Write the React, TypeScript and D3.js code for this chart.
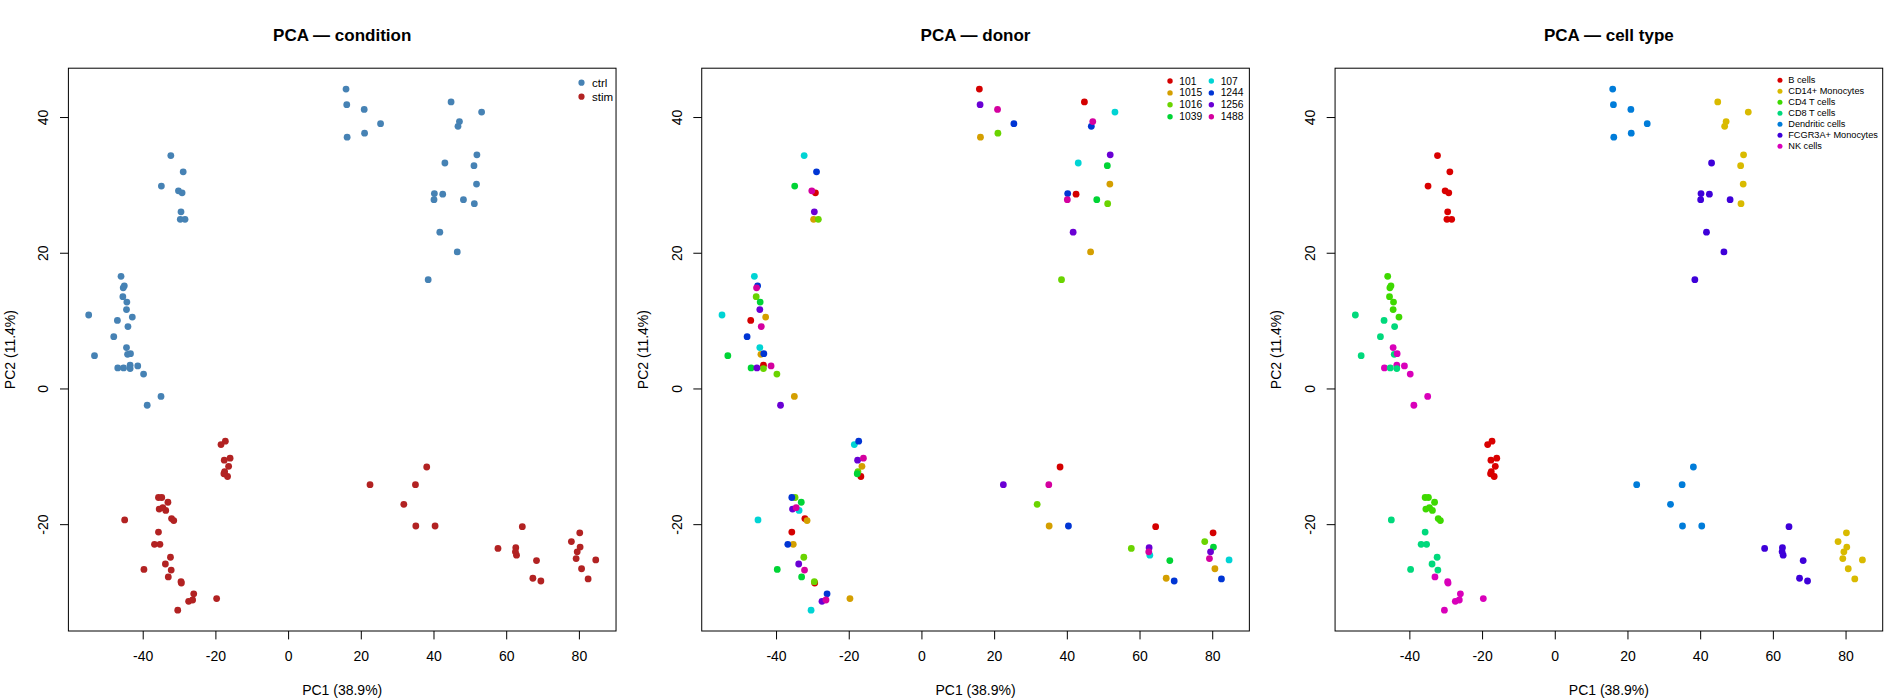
import { useEffect, useRef } from 'react';
import * as d3 from 'd3';

// each sample: [donor, condition, PC1, PC2]
type Sample = [string, string, number, number];

const donors = ["101", "1015", "1016", "1039", "107", "1244", "1256", "1488"];
const donorColors = ["#d40000", "#d49f00", "#6ad400", "#00d435", "#00d4d4", "#0035d4", "#6a00d4", "#d4009f"];

const cellTypes = ["B cells", "CD14+ Monocytes", "CD4 T cells", "CD8 T cells", "Dendritic cells", "FCGR3A+ Monocytes", "NK cells"];
const cellTypeColors = ["#d90000", "#d9ba00", "#3ed900", "#00d97c", "#007cd9", "#3e00d9", "#d900ba"];

const conditions = ["ctrl", "stim"];
const conditionColors = ["#4682b4", "#b22222"];

const bCells: Sample[] = [
    ["107", "ctrl", -32.4, 34.4], ["1244", "ctrl", -29.0, 32.0], ["1039", "ctrl", -35.0, 29.9], ["1488", "ctrl", -30.3, 29.2],
    ["101", "ctrl", -29.3, 28.9], ["1256", "ctrl", -29.6, 26.1], ["1015", "ctrl", -29.8, 25.0], ["1016", "ctrl", -28.5, 25.0],
    ["1244", "stim", -17.4, -7.7], ["107", "stim", -18.6, -8.2], ["1256", "stim", -17.7, -10.5], ["1488", "stim", -16.1, -10.2],
    ["1015", "stim", -16.5, -11.4], ["1016", "stim", -17.6, -12.2], ["1039", "stim", -17.8, -12.5], ["101", "stim", -16.8, -12.9],
];

const cd14Mono: Sample[] = [
    ["101", "ctrl", 44.7, 42.3], ["107", "ctrl", 53.1, 40.8], ["1488", "ctrl", 47.0, 39.4], ["1244", "ctrl", 46.6, 38.7],
    ["1256", "ctrl", 51.8, 34.5], ["1039", "ctrl", 51.0, 32.9], ["1015", "ctrl", 51.7, 30.2], ["1016", "ctrl", 51.1, 27.3],
    ["101", "stim", 80.1, -21.2], ["1016", "stim", 77.8, -22.5], ["1039", "stim", 80.2, -23.3], ["1256", "stim", 79.4, -24.0],
    ["1488", "stim", 79.1, -25.0], ["107", "stim", 84.5, -25.2], ["1015", "stim", 80.6, -26.5], ["1244", "stim", 82.4, -28.0],
];

const cd4T: Sample[] = [
    ["107", "ctrl", -46.1, 16.6], ["1244", "ctrl", -45.2, 15.2], ["1488", "ctrl", -45.5, 14.9], ["1016", "ctrl", -45.6, 13.6],
    ["1039", "ctrl", -44.5, 12.8], ["1256", "ctrl", -44.6, 11.7], ["1015", "ctrl", -43.0, 10.6],
    ["1016", "stim", -34.9, -16.0], ["1244", "stim", -35.8, -16.0], ["1039", "stim", -33.2, -16.7], ["1256", "stim", -35.6, -17.7],
    ["1488", "stim", -34.6, -17.5], ["107", "stim", -33.8, -17.9], ["101", "stim", -32.2, -19.1], ["1015", "stim", -31.6, -19.4],
];

const cd8T: Sample[] = [
    ["107", "ctrl", -55.0, 10.9], ["101", "ctrl", -47.1, 10.1], ["1488", "ctrl", -44.2, 9.2], ["1244", "ctrl", -48.1, 7.7],
    ["1015", "ctrl", -44.3, 5.1], ["1039", "ctrl", -53.4, 4.9], ["1256", "ctrl", -45.4, 3.1], ["1016", "ctrl", -43.6, 3.0],
    ["107", "stim", -45.1, -19.3], ["101", "stim", -35.8, -21.1], ["1244", "stim", -36.9, -22.9], ["1015", "stim", -35.4, -22.9],
    ["1016", "stim", -32.5, -24.8], ["1256", "stim", -33.9, -25.8], ["1039", "stim", -39.8, -26.6], ["1488", "stim", -32.3, -26.7],
];

const dendritic: Sample[] = [
    ["101", "ctrl", 15.8, 44.2], ["1256", "ctrl", 16.0, 41.9], ["1488", "ctrl", 20.8, 41.2], ["1244", "ctrl", 25.3, 39.1],
    ["1015", "ctrl", 16.1, 37.1], ["1016", "ctrl", 20.9, 37.7],
    ["101", "stim", 38.0, -11.5], ["1256", "stim", 22.4, -14.1], ["1488", "stim", 34.9, -14.1], ["1016", "stim", 31.7, -17.0],
    ["1015", "stim", 35.0, -20.2], ["1244", "stim", 40.3, -20.2],
];

const fcgr3aMono: Sample[] = [
    ["107", "ctrl", 43.0, 33.3], ["1244", "ctrl", 40.1, 28.8], ["101", "ctrl", 42.4, 28.7], ["1488", "ctrl", 40.0, 27.9],
    ["1039", "ctrl", 48.1, 27.9], ["1256", "ctrl", 41.6, 23.1], ["1015", "ctrl", 46.4, 20.2], ["1016", "ctrl", 38.4, 16.1],
    ["101", "stim", 64.3, -20.3], ["1016", "stim", 57.6, -23.5], ["1256", "stim", 62.5, -23.4], ["107", "stim", 62.7, -24.5],
    ["1488", "stim", 62.4, -24.0], ["1039", "stim", 68.2, -25.3], ["1015", "stim", 67.2, -27.9], ["1244", "stim", 69.4, -28.3],
];

const nkCells: Sample[] = [
    ["107", "ctrl", -44.6, 6.1], ["1244", "ctrl", -43.5, 5.2], ["101", "ctrl", -43.6, 3.5], ["1488", "ctrl", -41.5, 3.4],
    ["1039", "ctrl", -47.0, 3.1], ["1016", "ctrl", -39.9, 2.2], ["1015", "ctrl", -35.1, -1.1], ["1256", "ctrl", -38.9, -2.4],
    ["1039", "stim", -33.1, -27.7], ["1016", "stim", -29.6, -28.4], ["101", "stim", -29.5, -28.6], ["1244", "stim", -26.1, -30.2],
    ["1256", "stim", -27.5, -31.3], ["1488", "stim", -26.4, -31.1], ["1015", "stim", -19.8, -30.9], ["107", "stim", -30.5, -32.6],
];

const samplesByCellType = [bCells, cd14Mono, cd4T, cd8T, dendritic, fcgr3aMono, nkCells];

const xTicks = [-40, -20, 0, 20, 40, 60, 80];
const yTicks = [-20, 0, 20, 40];
const xLabel = "PC1 (38.9%)";
const yLabel = "PC2 (11.4%)";

export default function App() {
    const ref = useRef<SVGSVGElement>(null);

    useEffect(() => {
        if (!ref.current) return;
        const svg = d3.select(ref.current);
        svg.selectAll("*").remove();

        const width = 1900;
        const height = 700;
        const panelW = width / 3;
        const margin = { top: 68.2, right: 17.3, bottom: 69, left: 68.4 };
        const font = "'Liberation Sans', Arial, Helvetica, sans-serif";

        // flatten, keep donor order so later donors sit on top (like R's plot order)
        const points = samplesByCellType.flatMap((rows, ci) =>
            rows.map(([donor, condition, pc1, pc2]) => ({ donor, condition, pc1, pc2, cellType: cellTypes[ci] }))
        ).sort((a, b) => donors.indexOf(a.donor) - donors.indexOf(b.donor));

        // R style axis ranges: data extent padded by 4%
        const pad = (ext: [number, number]) => {
            const r = ext[1] - ext[0];
            return [ext[0] - 0.04 * r, ext[1] + 0.04 * r];
        };
        const xDomain = pad(d3.extent(points, d => d.pc1) as [number, number]);
        const yDomain = pad(d3.extent(points, d => d.pc2) as [number, number]);

        const panels = [
            {
                title: "PCA — condition", key: "condition", levels: conditions, colors: conditionColors,
                legend: { x: 581.5, dx: 10.5, colW: 0, y: 82.7, dy: 14, size: 11.5, r: 3.1, nrow: 2 },
            },
            {
                title: "PCA — donor", key: "donor", levels: donors, colors: donorColors,
                legend: { x: 536.7, dx: 9.3, colW: 41.3, y: 81, dy: 11.9, size: 10.3, r: 2.7, nrow: 4 },
            },
            {
                title: "PCA — cell type", key: "cellType", levels: cellTypes, colors: cellTypeColors,
                legend: { x: 513.3, dx: 8.3, colW: 0, y: 80.3, dy: 11, size: 9.2, r: 2.5, nrow: 7 },
            },
        ];

        panels.forEach((p, i) => {
            const g = svg.append("g")
                .attr("transform", `translate(${i * panelW},0)`)
                .attr("font-family", font);

            const x = d3.scaleLinear().domain(xDomain).range([margin.left, panelW - margin.right]);
            const y = d3.scaleLinear().domain(yDomain).range([height - margin.bottom, margin.top]);
            const color = d3.scaleOrdinal<string, string>().domain(p.levels).range(p.colors);

            const bottom = height - margin.bottom;

            // points
            g.append("g")
                .selectAll("circle")
                .data(points)
                .join("circle")
                .attr("cx", d => x(d.pc1))
                .attr("cy", d => y(d.pc2))
                .attr("r", 3.4)
                .attr("fill", d => color((d as any)[p.key]));

            // box
            g.append("rect")
                .attr("x", margin.left)
                .attr("y", margin.top)
                .attr("width", panelW - margin.left - margin.right)
                .attr("height", bottom - margin.top)
                .attr("fill", "none")
                .attr("stroke", "#000")
                .attr("stroke-width", 1);

            // x ticks
            xTicks.forEach(t => {
                g.append("line")
                    .attr("x1", x(t)).attr("x2", x(t))
                    .attr("y1", bottom).attr("y2", bottom + 8.4)
                    .attr("stroke", "#000");
                g.append("text")
                    .attr("x", x(t)).attr("y", bottom + 25)
                    .attr("text-anchor", "middle")
                    .attr("dominant-baseline", "central")
                    .attr("font-size", 14)
                    .text(t);
            });

            // y ticks, labels parallel to the axis
            yTicks.forEach(t => {
                g.append("line")
                    .attr("x1", margin.left - 8.4).attr("x2", margin.left)
                    .attr("y1", y(t)).attr("y2", y(t))
                    .attr("stroke", "#000");
                g.append("text")
                    .attr("transform", `translate(${margin.left - 25},${y(t)}) rotate(-90)`)
                    .attr("text-anchor", "middle")
                    .attr("dominant-baseline", "central")
                    .attr("font-size", 14)
                    .text(t);
            });

            // axis titles
            g.append("text")
                .attr("x", (margin.left + panelW - margin.right) / 2)
                .attr("y", bottom + 58.8)
                .attr("text-anchor", "middle")
                .attr("dominant-baseline", "central")
                .attr("font-size", 14)
                .text(xLabel);
            g.append("text")
                .attr("transform", `translate(${margin.left - 58.8},${(margin.top + bottom) / 2}) rotate(-90)`)
                .attr("text-anchor", "middle")
                .attr("dominant-baseline", "central")
                .attr("font-size", 14)
                .text(yLabel);

            // title
            g.append("text")
                .attr("x", (margin.left + panelW - margin.right) / 2)
                .attr("y", 40.5)
                .attr("text-anchor", "middle")
                .attr("font-size", 17)
                .attr("font-weight", "bold")
                .text(p.title);

            // legend (column-wise fill like R)
            const L = p.legend;
            p.levels.forEach((lev, k) => {
                const col = Math.floor(k / L.nrow);
                const row = k % L.nrow;
                const lx = L.x + col * L.colW;
                const ly = L.y + row * L.dy;
                g.append("circle")
                    .attr("cx", lx).attr("cy", ly)
                    .attr("r", L.r)
                    .attr("fill", p.colors[k]);
                g.append("text")
                    .attr("x", lx + L.dx).attr("y", ly)
                    .attr("dominant-baseline", "central")
                    .attr("font-size", L.size)
                    .text(lev);
            });
        });
    }, [ref]);

    return (
        <svg ref={ref} width={1900} height={700}
            style={{ position: "absolute", left: 0, top: 0, background: "#fff" }} />
    );
}
